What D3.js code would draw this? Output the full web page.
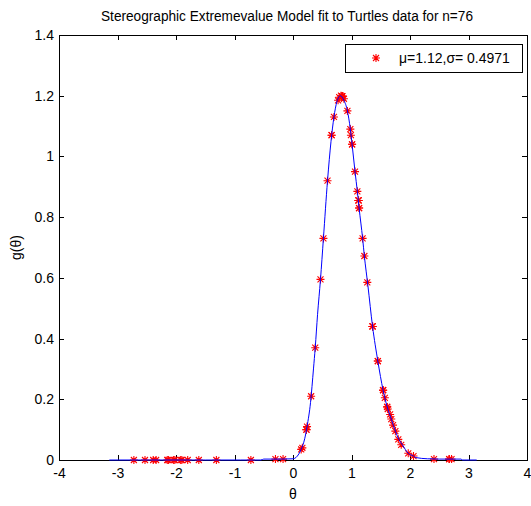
<!DOCTYPE html>
<html>
<head>
<meta charset="utf-8">
<script src="https://cdn.jsdelivr.net/npm/d3@7"></script>
<style>
  body { margin: 0; background: #ffffff; }
  svg { display: block; font-family: "Liberation Sans", Arial, sans-serif; }
</style>
</head>
<body>
<svg id="graph"></svg>
<script>
// turtle directions (radians, wrapped to -pi..pi) and fitted density at each
var thetaData = [
  -2.72, -2.53, -2.39, -2.34, -2.15, -2.13, -2.04, -2.02, -1.92, -1.90,
  -1.80, -1.61, -1.31, -0.72, -0.30, -0.17,
  0.14, 0.16, 0.23, 0.23, 0.24, 0.31, 0.38, 0.47, 0.52, 0.59,
  0.66, 0.66, 0.70, 0.77, 0.79, 0.82, 0.84, 0.84, 0.84, 0.84,
  0.87, 0.93, 0.98, 0.99, 1.01, 1.01, 1.06, 1.10, 1.12, 1.12,
  1.12, 1.13, 1.13, 1.19, 1.22, 1.27, 1.36, 1.36, 1.36, 1.45,
  1.45, 1.54, 1.54, 1.54, 1.57, 1.61, 1.61, 1.62, 1.66, 1.68,
  1.71, 1.75, 1.80, 1.85, 1.97, 2.06, 2.41, 2.67, 2.67, 2.71
];
var gData = [
  0, 0, 0, 0, 0, 0, 0, 0, 0, 0,
  0, 0, 0, 0, 0.003, 0.003,
  0.035, 0.04, 0.10, 0.10, 0.11, 0.21, 0.37, 0.595, 0.73, 0.92,
  1.07, 1.07, 1.13, 1.185, 1.195, 1.20, 1.198, 1.198, 1.198, 1.198,
  1.19, 1.15, 1.09, 1.07, 1.04, 1.04, 0.95, 0.885, 0.855, 0.855,
  0.855, 0.83, 0.83, 0.73, 0.672, 0.585, 0.44, 0.44, 0.44, 0.326,
  0.326, 0.23, 0.23, 0.23, 0.205, 0.175, 0.175, 0.168, 0.15, 0.135,
  0.115, 0.095, 0.068, 0.05, 0.022, 0.013, 0.003, 0.003, 0.003, 0.003
];

// fitted curve
var curveTheta = [
  -3.14, -2.5, -1.5, -0.9, -0.55, -0.5, -0.2, 0.0, 0.05, 0.10,
  0.14, 0.20, 0.24, 0.30, 0.35, 0.38, 0.42, 0.47, 0.52, 0.59,
  0.65, 0.70, 0.75, 0.81, 0.87, 0.93, 0.98, 1.01, 1.06, 1.10,
  1.13, 1.19, 1.22, 1.28, 1.36, 1.45, 1.54, 1.61, 1.68, 1.75,
  1.81, 1.87, 1.97, 2.06, 2.10, 2.30, 2.50, 2.87, 2.9, 3.14
];
var curveG = [
  0, 0, 0, 0, 0, 0.003, 0.003, 0.004, 0.008, 0.02,
  0.035, 0.07, 0.11, 0.19, 0.30, 0.37, 0.48, 0.595, 0.73, 0.92,
  1.05, 1.13, 1.18, 1.20, 1.185, 1.15, 1.09, 1.04, 0.95, 0.885,
  0.83, 0.73, 0.672, 0.575, 0.44, 0.326, 0.23, 0.175, 0.135, 0.095,
  0.068, 0.05, 0.022, 0.013, 0.008, 0.004, 0.003, 0.003, 0, 0
];

var xTicks = [-4, -3, -2, -1, 0, 1, 2, 3, 4];
var yTicks = [0, 0.2, 0.4, 0.6, 0.8, 1, 1.2, 1.4];
var yTickLabels = ["0", "0.2", "0.4", "0.6", "0.8", "1", "1.2", "1.4"];

var titleText = "Stereographic Extremevalue Model fit to Turtles data for n=76";
var legendText = "\u03bc=1.12,\u03c3= 0.4971";

var dimensions = {
    width: 531,
    height: 506,
    margin: { top: 35, bottom: 46, left: 59, right: 4 }
};

var svg = d3.select("#graph")
            .attr("width", dimensions.width)
            .attr("height", dimensions.height);

svg.append("rect")
   .attr("width", dimensions.width)
   .attr("height", dimensions.height)
   .attr("fill", "#ffffff");

var xScale = d3.scaleLinear()
               .domain([-4, 4])
               .range([dimensions.margin.left, dimensions.width - dimensions.margin.right]);

var yScale = d3.scaleLinear()
               .domain([0, 1.4])
               .range([dimensions.height - dimensions.margin.bottom, dimensions.margin.top]);

var x0 = xScale(-4), x1 = xScale(4), y0 = yScale(0), y1 = yScale(1.4);

// axes, ticks pointing inwards on all four sides
var xAxis = svg.append("g")
               .attr("transform", "translate(0," + y0 + ")")
               .call(d3.axisBottom(xScale).tickValues(xTicks).tickSize(-5).tickSizeOuter(0)
                       .tickPadding(8).tickFormat(function(d){ return String(d) }));
var yAxis = svg.append("g")
               .attr("transform", "translate(" + x0 + ",0)")
               .call(d3.axisLeft(yScale).tickValues(yTicks).tickSize(-5).tickSizeOuter(0)
                       .tickPadding(5).tickFormat(function(d, i){ return yTickLabels[i] }));
svg.append("g")
   .attr("transform", "translate(0," + y1 + ")")
   .call(d3.axisTop(xScale).tickValues(xTicks).tickSize(-5).tickSizeOuter(0).tickFormat(""));
svg.append("g")
   .attr("transform", "translate(" + x1 + ",0)")
   .call(d3.axisRight(yScale).tickValues(yTicks).tickSize(-5).tickSizeOuter(0).tickFormat(""));

svg.selectAll(".domain").remove();
svg.selectAll(".tick line").attr("stroke", "#000").attr("shape-rendering", "crispEdges");
svg.selectAll(".tick text")
   .style("font-size", "14px")
   .style("font-family", "'Liberation Sans', Arial, sans-serif")
   .attr("fill", "#000");

svg.append("rect")
   .attr("x", x0)
   .attr("y", y1)
   .attr("width", x1 - x0)
   .attr("height", y0 - y1)
   .attr("fill", "none")
   .attr("stroke", "#000")
   .attr("shape-rendering", "crispEdges");

// data markers
var starPath = "M-4,0H4M0,-4V4M-3,-3L3,3M-3,3L3,-3";
svg.append("g")
   .selectAll("path")
   .data(thetaData)
   .enter()
   .append("path")
   .attr("transform", function(d, i){ return "translate(" + xScale(d) + "," + yScale(gData[i]) + ")" })
   .attr("d", starPath)
   .attr("stroke", "#ff0000")
   .attr("stroke-width", 1.1)
   .attr("fill", "none");

// fitted density
var line = d3.line()
             .x(function(d){ return xScale(d) })
             .y(function(d, i){ return yScale(curveG[i]) })
             .curve(d3.curveMonotoneX);

svg.append("path")
   .datum(curveTheta)
   .attr("d", line)
   .attr("fill", "none")
   .attr("stroke", "#0000ff")
   .attr("stroke-width", 1);

// title and labels
svg.append("text")
   .attr("x", 287)
   .attr("y", 21)
   .attr("text-anchor", "middle")
   .attr("textLength", 372)
   .attr("lengthAdjust", "spacingAndGlyphs")
   .style("font-size", "14px")
   .text(titleText);

svg.append("text")
   .attr("x", (x0 + x1) / 2)
   .attr("y", 499)
   .attr("text-anchor", "middle")
   .style("font-size", "14px")
   .text("\u03b8");

svg.append("text")
   .attr("transform", "rotate(-90)")
   .attr("x", -(y0 + y1) / 2)
   .attr("y", 21)
   .attr("text-anchor", "middle")
   .style("font-size", "14px")
   .text("g(\u03b8)");

// legend
var legend = svg.append("g");
legend.append("rect")
      .attr("x", 345)
      .attr("y", 44)
      .attr("width", 177)
      .attr("height", 28)
      .attr("fill", "#ffffff")
      .attr("stroke", "#000")
      .attr("shape-rendering", "crispEdges");
legend.append("path")
      .attr("transform", "translate(376,58)")
      .attr("d", starPath)
      .attr("stroke", "#ff0000")
      .attr("stroke-width", 1.1)
      .attr("fill", "none");
legend.append("text")
      .attr("x", 399)
      .attr("y", 63)
      .style("font-size", "14px")
      .text(legendText);
</script>
</body>
</html>
